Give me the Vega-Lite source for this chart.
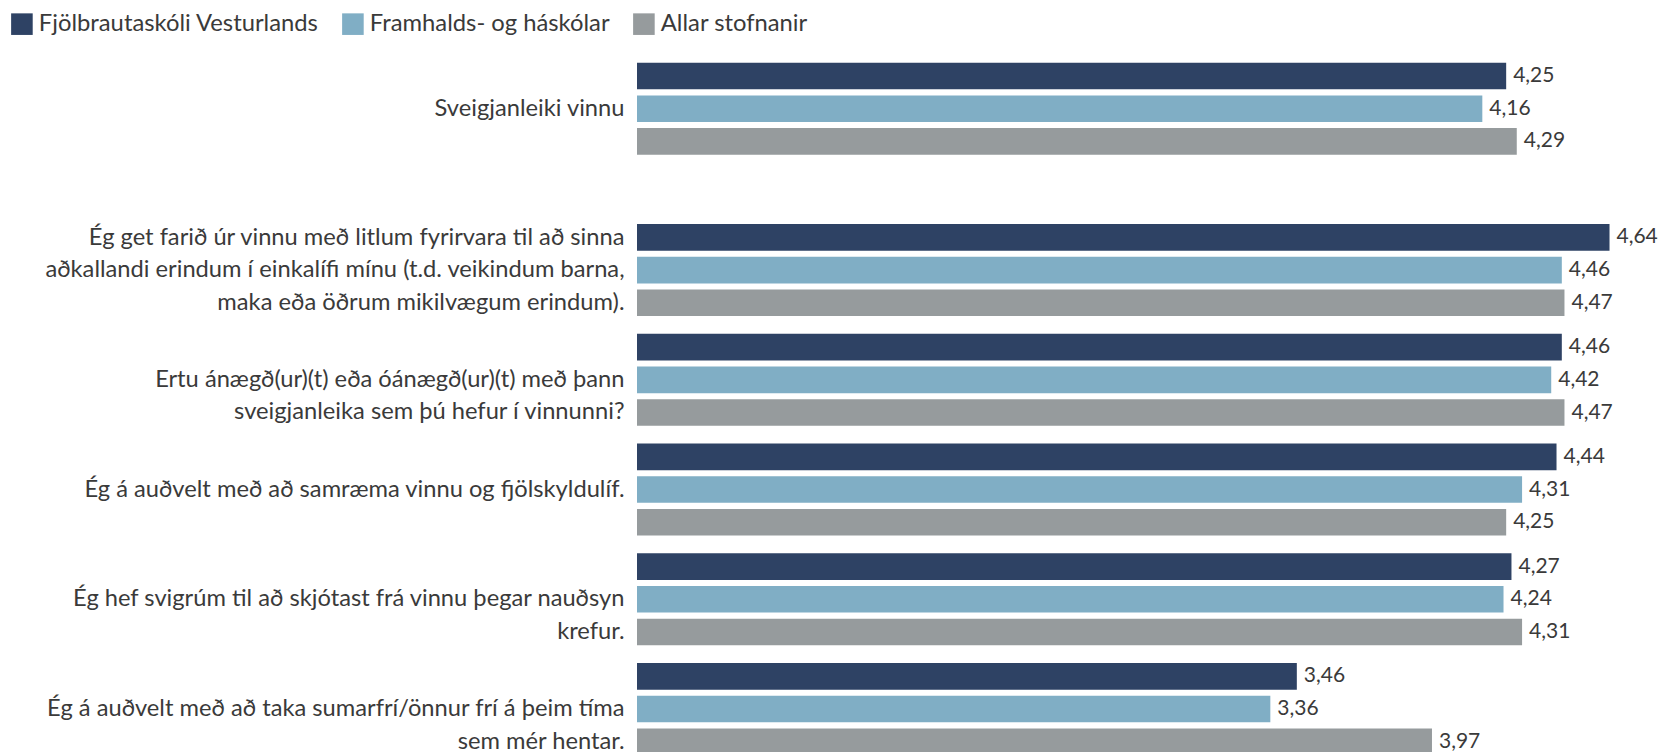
{
  "$schema": "https://vega.github.io/schema/vega-lite/v6.json",
  "padding": {"left": 10, "top": 11.7, "right": 0, "bottom": 0},
  "background": "white",
  "config": {
    "font": "Lato",
    "view": {"stroke": null},
    "locale": {"number": {"decimal": ",", "thousands": ".", "grouping": [3], "currency": ["", " kr."]}},
    "axis": {
      "domain": false, "ticks": false, "grid": false, "title": null,
      "labelFont": "Lato", "labelFontSize": 23.7, "labelColor": "#3a3a3a",
      "labelPadding": 13, "labelLimit": 700, "labelLineHeight": 32.5,
      "minExtent": 627, "maxExtent": 627
    }
  },
  "data": {"values": [
    {"part": "top", "question": "Sveigjanleiki vinnu", "series": "Fjölbrautaskóli Vesturlands", "value": 4.25},
    {"part": "top", "question": "Sveigjanleiki vinnu", "series": "Framhalds- og háskólar", "value": 4.16},
    {"part": "top", "question": "Sveigjanleiki vinnu", "series": "Allar stofnanir", "value": 4.29},
    {"part": "bottom", "question": "Ég get farið úr vinnu með litlum fyrirvara til að sinna|aðkallandi erindum í einkalífi mínu (t.d. veikindum barna,|maka eða öðrum mikilvægum erindum).", "series": "Fjölbrautaskóli Vesturlands", "value": 4.64},
    {"part": "bottom", "question": "Ég get farið úr vinnu með litlum fyrirvara til að sinna|aðkallandi erindum í einkalífi mínu (t.d. veikindum barna,|maka eða öðrum mikilvægum erindum).", "series": "Framhalds- og háskólar", "value": 4.46},
    {"part": "bottom", "question": "Ég get farið úr vinnu með litlum fyrirvara til að sinna|aðkallandi erindum í einkalífi mínu (t.d. veikindum barna,|maka eða öðrum mikilvægum erindum).", "series": "Allar stofnanir", "value": 4.47},
    {"part": "bottom", "question": "Ertu ánægð(ur)(t) eða óánægð(ur)(t) með þann|sveigjanleika sem þú hefur í vinnunni?", "series": "Fjölbrautaskóli Vesturlands", "value": 4.46},
    {"part": "bottom", "question": "Ertu ánægð(ur)(t) eða óánægð(ur)(t) með þann|sveigjanleika sem þú hefur í vinnunni?", "series": "Framhalds- og háskólar", "value": 4.42},
    {"part": "bottom", "question": "Ertu ánægð(ur)(t) eða óánægð(ur)(t) með þann|sveigjanleika sem þú hefur í vinnunni?", "series": "Allar stofnanir", "value": 4.47},
    {"part": "bottom", "question": "Ég á auðvelt með að samræma vinnu og fjölskyldulíf.", "series": "Fjölbrautaskóli Vesturlands", "value": 4.44},
    {"part": "bottom", "question": "Ég á auðvelt með að samræma vinnu og fjölskyldulíf.", "series": "Framhalds- og háskólar", "value": 4.31},
    {"part": "bottom", "question": "Ég á auðvelt með að samræma vinnu og fjölskyldulíf.", "series": "Allar stofnanir", "value": 4.25},
    {"part": "bottom", "question": "Ég hef svigrúm til að skjótast frá vinnu þegar nauðsyn|krefur.", "series": "Fjölbrautaskóli Vesturlands", "value": 4.27},
    {"part": "bottom", "question": "Ég hef svigrúm til að skjótast frá vinnu þegar nauðsyn|krefur.", "series": "Framhalds- og háskólar", "value": 4.24},
    {"part": "bottom", "question": "Ég hef svigrúm til að skjótast frá vinnu þegar nauðsyn|krefur.", "series": "Allar stofnanir", "value": 4.31},
    {"part": "bottom", "question": "Ég á auðvelt með að taka sumarfrí/önnur frí á þeim tíma|sem mér hentar.", "series": "Fjölbrautaskóli Vesturlands", "value": 3.46},
    {"part": "bottom", "question": "Ég á auðvelt með að taka sumarfrí/önnur frí á þeim tíma|sem mér hentar.", "series": "Framhalds- og háskólar", "value": 3.36},
    {"part": "bottom", "question": "Ég á auðvelt með að taka sumarfrí/önnur frí á þeim tíma|sem mér hentar.", "series": "Allar stofnanir", "value": 3.97}
  ]},
  "spacing": 59.5,
  "resolve": {"scale": {"x": "independent", "y": "independent", "yOffset": "independent", "color": "independent"}},
  "vconcat": [
    {
      "transform": [{"filter": "datum.part == 'top'"}],
      "width": 1025,
      "height": 92,
      "encoding": {
        "y": {"field": "question", "type": "nominal", "sort": null,
              "scale": {"paddingInner": 0, "paddingOuter": 0},
              "axis": {"labelExpr": "split(datum.label, '|')", "labelFontSize": 23.7}},
        "yOffset": {"field": "series", "type": "nominal",
                    "sort": ["Fjölbrautaskóli Vesturlands", "Framhalds- og háskólar", "Allar stofnanir"],
                    "scale": {"paddingInner": 0.1865, "paddingOuter": 0}},
        "x": {"field": "value", "type": "quantitative",
              "scale": {"domain": [0.97, 4.838], "nice": false, "zero": false}, "axis": null}
      },
      "layer": [
        {
          "mark": {"type": "bar"},
          "encoding": {
            "x2": {"datum": 0.97},
            "color": {"field": "series", "type": "nominal",
                      "scale": {"domain": ["Fjölbrautaskóli Vesturlands", "Framhalds- og háskólar", "Allar stofnanir"],
                                "range": ["#2e4264", "#80aec5", "#969b9d"]},
                      "legend": {"orient": "none", "legendX": -627, "legendY": -50.6, "direction": "horizontal",
                                 "columns": 3, "title": null, "symbolType": "square", "symbolSize": 466,
                                 "symbolStrokeWidth": 0, "labelFont": "Lato", "labelFontSize": 23.8, "labelColor": "#3a3a3a",
                                 "labelOffset": 5, "columnPadding": 22, "labelLimit": 400}}
          }
        },
        {
          "mark": {"type": "text", "align": "left", "baseline": "middle", "dx": 7, "font": "Lato", "fontSize": 21, "color": "#3a3a3a"},
          "encoding": {"text": {"field": "value", "type": "quantitative", "format": ".2f"}}
        }
      ]
    },
    {
      "transform": [{"filter": "datum.part == 'bottom'"}],
      "width": 1025,
      "height": 538,
      "encoding": {
        "y": {"field": "question", "type": "nominal", "sort": null,
              "scale": {"paddingInner": 0.1617, "paddingOuter": 0.081, "range": [0, 548.75]},
              "axis": {"labelExpr": "split(datum.label, '|')", "labelFontSize": 23.7,
                       "labelOffset": {"condition": {"test": "length(split(datum.value, '|')) == 3", "value": -32.5}, "value": 0}}},
        "yOffset": {"field": "series", "type": "nominal",
                    "sort": ["Fjölbrautaskóli Vesturlands", "Framhalds- og háskólar", "Allar stofnanir"],
                    "scale": {"paddingInner": 0.1865, "paddingOuter": 0}},
        "x": {"field": "value", "type": "quantitative",
              "scale": {"domain": [0.97, 4.838], "nice": false, "zero": false}, "axis": null}
      },
      "layer": [
        {
          "mark": {"type": "bar", "clip": true},
          "encoding": {
            "x2": {"datum": 0.97},
            "color": {"field": "series", "type": "nominal",
                      "scale": {"domain": ["Fjölbrautaskóli Vesturlands", "Framhalds- og háskólar", "Allar stofnanir"],
                                "range": ["#2e4264", "#80aec5", "#969b9d"]},
                      "legend": null}
          }
        },
        {
          "mark": {"type": "text", "align": "left", "baseline": "middle", "dx": 7, "font": "Lato", "fontSize": 21, "color": "#3a3a3a", "clip": true},
          "encoding": {"text": {"field": "value", "type": "quantitative", "format": ".2f"}}
        }
      ]
    }
  ]
}
